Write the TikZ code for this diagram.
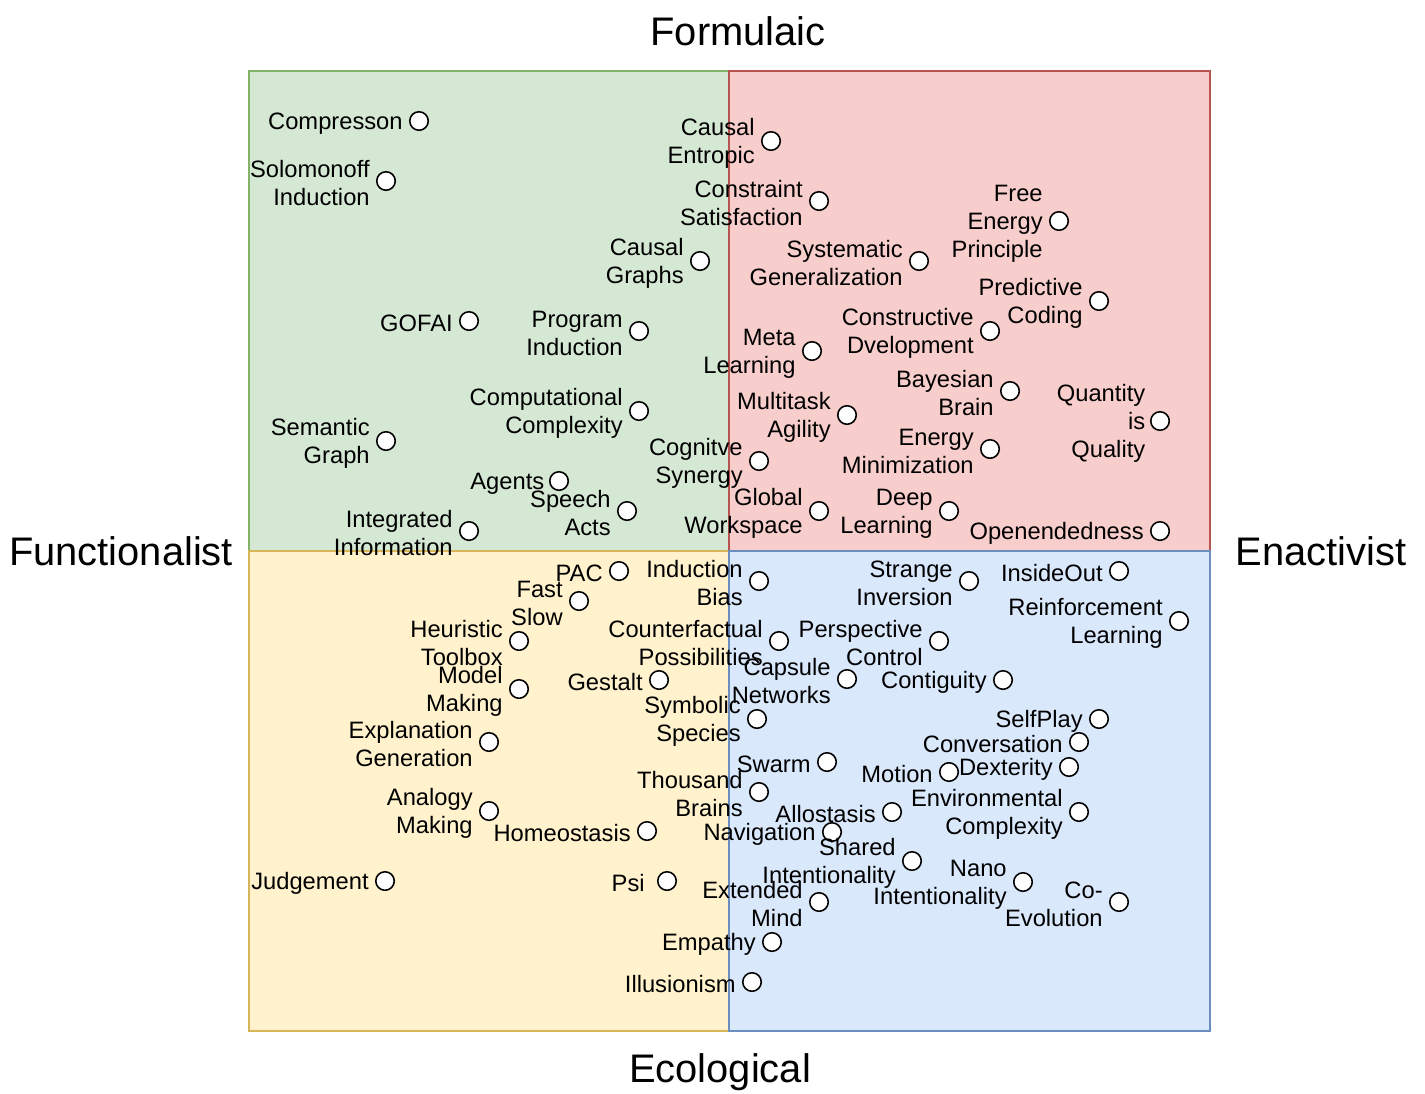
\documentclass[tikz,border=0pt]{standalone}
\usepackage{fontspec}
\setmainfont{Liberation Sans}
\usepackage{tikz}
\usetikzlibrary{positioning}
\definecolor{grfill}{HTML}{D5E8D4}
\definecolor{grline}{HTML}{82B366}
\definecolor{rdfill}{HTML}{F8CECC}
\definecolor{rdline}{HTML}{B85450}
\definecolor{ylfill}{HTML}{FFF2CC}
\definecolor{ylline}{HTML}{D6B656}
\definecolor{blfill}{HTML}{DAE8FC}
\definecolor{blline}{HTML}{6C8EBF}
\tikzstyle{pt}=[circle,draw,fill=white,inner sep=0pt,minimum size=0.37cm,line width=0.9pt]
\tikzstyle{lbl}=[align=right,inner sep=0pt,yshift=-1.4pt,font=\fontsize{13.5}{15.9}\selectfont]
\tikzstyle{axis}=[inner sep=0pt,font=\fontsize{22.7}{27}\selectfont]
\tikzstyle{quad}=[line width=0.85pt]
\begin{document}
\begin{tikzpicture}[x=0.02cm,y=-0.02cm]
            \useasboundingbox (0,0) rectangle (1425,1093);
            \fill[white] (0,0) rectangle (1425,1093);
            % quadrants
            \draw[quad,draw=grline,fill=grfill] (249,71) rectangle (729,551);
            \draw[quad,draw=ylline,fill=ylfill] (249,551) rectangle (729,1031);
            \draw[quad,draw=rdline,fill=rdfill] (729,71) rectangle (1210,551);
            \draw[quad,draw=blline,fill=blfill] (729,551) rectangle (1210,1031);
            % axes
            \node[axis] (formulaic) at (738,31) {Formulaic};
            \node[axis] (ecological) at (720,1072) {Ecological};
            \node[axis] (functionalist) at (121,551) {Functionalist};
            \node[axis] (enactivist) at (1321,551) {Enactivist};
            % formulaic / functionalist
            \node[pt] (comp) at (419,121) {}
            ;
            \node[lbl,left=3.4pt of comp] (compT) {Compresson}
            ;
            \node[pt] (solo) at (386,181) {}
            ;
            \node[lbl,left=3.4pt of solo] (soloT) {Solomonoff\\Induction}
            ;
            \node[pt] (cgraph) at (700,261) {}
            ;
            \node[lbl,left=3.4pt of cgraph] (cgraphT) {Causal\\Graphs}
            ;
            \node[pt] (gofai) at (469,321) {}
            ;
            \node[lbl,left=3.4pt of gofai] (gofaiT) {GOFAI}
            ;
            \node[pt] (prog) at (639,331) {}
            ;
            \node[lbl,left=3.4pt of prog] (progT) {Program\\Induction}
            ;
            \node[pt] (compx) at (639,411) {}
            ;
            \node[lbl,left=3.4pt of compx] (compxT) {Computational\\Complexity}
            ;
            \node[pt] (sem) at (386,441) {}
            ;
            \node[lbl,left=3.4pt of sem] (semT) {Semantic\\Graph}
            ;
            \node[pt] (agents) at (559,481) {}
            ;
            \node[lbl,left=2.5pt of agents] (agentsT) {Agents}
            ;
            \node[pt] (speech) at (627,511) {}
            ;
            \node[lbl,left=3.4pt of speech] (speechT) {Speech\\Acts}
            ;
            \node[pt] (integ) at (469,531) {}
            ;
            \node[lbl,left=3.4pt of integ] (integT) {Integrated\\Information}
            ;
            % formulaic / enactivist
            \node[pt] (centr) at (771,141) {}
            ;
            \node[lbl,left=3.4pt of centr] (centrT) {Causal\\Entropic}
            ;
            \node[pt] (cons) at (819,201) {}
            ;
            \node[lbl,left=3.4pt of cons] (consT) {Constraint\\Satisfaction}
            ;
            \node[pt] (fep) at (1059,221) {}
            ;
            \node[lbl,left=3.4pt of fep] (fepT) {Free\\Energy\\Principle}
            ;
            \node[pt] (sysg) at (919,261) {}
            ;
            \node[lbl,left=3.4pt of sysg] (sysgT) {Systematic\\Generalization}
            ;
            \node[pt] (pred) at (1099,301) {}
            ;
            \node[lbl,left=3.4pt of pred] (predT) {Predictive\\Coding}
            ;
            \node[pt] (cdev) at (990,331) {}
            ;
            \node[lbl,left=3.4pt of cdev] (cdevT) {Constructive\\Dvelopment}
            ;
            \node[pt] (meta) at (812,351) {}
            ;
            \node[lbl,left=3.4pt of meta] (metaT) {Meta\\Learning}
            ;
            \node[pt] (bayes) at (1010,391) {}
            ;
            \node[lbl,left=3.4pt of bayes] (bayesT) {Bayesian\\Brain}
            ;
            \node[pt] (multi) at (847,415) {}
            ;
            \node[lbl,left=3.4pt of multi] (multiT) {Multitask\\Agility}
            ;
            \node[pt] (qiq) at (1160,421) {}
            ;
            \node[lbl,left=2.5pt of qiq] (qiqT) {Quantity\\is\\Quality}
            ;
            \node[pt] (emin) at (990,449) {}
            ;
            \node[lbl,left=3.4pt of emin] (eminT) {Energy\\Minimization}
            ;
            \node[pt] (cogsyn) at (759,461) {}
            ;
            \node[lbl,left=3.4pt of cogsyn] (cogsynT) {Cognitve\\Synergy}
            ;
            \node[pt] (gws) at (819,511) {}
            ;
            \node[lbl,left=3.4pt of gws] (gwsT) {Global\\Workspace}
            ;
            \node[pt] (deep) at (949,511) {}
            ;
            \node[lbl,left=3.4pt of deep] (deepT) {Deep\\Learning}
            ;
            \node[pt] (open) at (1160,531) {}
            ;
            \node[lbl,left=3.4pt of open] (openT) {Openendedness}
            ;
            % ecological / functionalist
            \node[pt] (pac) at (619,571) {}
            ;
            \node[lbl,left=3.4pt of pac] (pacT) {PAC}
            ;
            \node[pt] (fast) at (579,601) {}
            ;
            \node[lbl,left=3.4pt of fast] (fastT) {Fast\\Slow}
            ;
            \node[pt] (heur) at (519,641) {}
            ;
            \node[lbl,left=3.4pt of heur] (heurT) {Heuristic\\Toolbox}
            ;
            \node[pt] (gest) at (659,680) {}
            ;
            \node[lbl,left=3.4pt of gest] (gestT) {Gestalt}
            ;
            \node[pt] (model) at (519,689) {}
            ;
            \node[lbl,left=3.4pt of model] (modelT) {Model\\Making}
            ;
            \node[pt] (expl) at (489,742) {}
            ;
            \node[lbl,left=3.4pt of expl] (explT) {Explanation\\Generation}
            ;
            \node[pt] (anal) at (489,811) {}
            ;
            \node[lbl,left=3.4pt of anal] (analT) {Analogy\\Making}
            ;
            \node[pt] (homeo) at (647,831) {}
            ;
            \node[lbl,left=3.4pt of homeo] (homeoT) {Homeostasis}
            ;
            \node[pt] (judge) at (385,881) {}
            ;
            \node[lbl,left=3.4pt of judge] (judgeT) {Judgement}
            ;
            \node[pt] (psi) at (667,881) {}
            ;
            \node[lbl,left=6.8pt of psi] (psiT) {Psi}
            ;
            % ecological / enactivist
            \node[pt] (ibias) at (759,581) {}
            ;
            \node[lbl,left=3.4pt of ibias] (ibiasT) {Induction\\Bias}
            ;
            \node[pt] (strange) at (969,581) {}
            ;
            \node[lbl,left=3.4pt of strange] (strangeT) {Strange\\Inversion}
            ;
            \node[pt] (inout) at (1119,571) {}
            ;
            \node[lbl,left=3.4pt of inout] (inoutT) {InsideOut}
            ;
            \node[pt] (rl) at (1179,621) {}
            ;
            \node[lbl,left=3.4pt of rl] (rlT) {Reinforcement\\Learning}
            ;
            \node[pt] (cfact) at (779,641) {}
            ;
            \node[lbl,left=3.4pt of cfact] (cfactT) {Counterfactual\\Possibilities}
            ;
            \node[pt] (persp) at (939,641) {}
            ;
            \node[lbl,left=3.4pt of persp] (perspT) {Perspective\\Control}
            ;
            \node[pt] (caps) at (847,679) {}
            ;
            \node[lbl,left=3.4pt of caps] (capsT) {Capsule\\Networks}
            ;
            \node[pt] (contig) at (1003,680) {}
            ;
            \node[lbl,left=3.4pt of contig] (contigT) {Contiguity}
            ;
            \node[pt] (symb) at (757,719) {}
            ;
            \node[lbl,left=3.4pt of symb] (symbT) {Symbolic\\Species}
            ;
            \node[pt] (self) at (1099,719) {}
            ;
            \node[lbl,left=3.4pt of self] (selfT) {SelfPlay}
            ;
            \node[pt] (conv) at (1079,742) {}
            ;
            \node[lbl,left=3.4pt of conv] (convT) {Conversation}
            ;
            \node[pt] (swarm) at (827,762) {}
            ;
            \node[lbl,left=3.4pt of swarm] (swarmT) {Swarm}
            ;
            \node[pt] (motion) at (949,772) {}
            ;
            \node[lbl,left=3.4pt of motion] (motionT) {Motion}
            ;
            \node[pt] (dext) at (1069,767) {}
            ;
            \node[lbl,left=3.4pt of dext] (dextT) {Dexterity}
            ;
            \node[pt] (thous) at (759,792) {}
            ;
            \node[lbl,left=3.4pt of thous] (thousT) {Thousand\\Brains}
            ;
            \node[pt] (allo) at (892,812) {}
            ;
            \node[lbl,left=3.4pt of allo] (alloT) {Allostasis}
            ;
            \node[pt] (env) at (1079,812) {}
            ;
            \node[lbl,left=3.4pt of env] (envT) {Environmental\\Complexity}
            ;
            \node[pt] (nav) at (832,832) {}
            ;
            \node[lbl,left=3.4pt of nav] (navT) {Navigation}
            ;
            \node[pt] (shared) at (912,861) {}
            ;
            \node[lbl,left=3.4pt of shared] (sharedT) {Shared\\Intentionality}
            ;
            \node[pt] (nano) at (1023,882) {}
            ;
            \node[lbl,left=3.4pt of nano] (nanoT) {Nano\\Intentionality}
            ;
            \node[pt] (coevo) at (1119,902) {}
            ;
            \node[lbl,left=3.4pt of coevo] (coevoT) {Co-\\Evolution}
            ;
            \node[pt] (ext) at (819,902) {}
            ;
            \node[lbl,left=3.4pt of ext] (extT) {Extended\\Mind}
            ;
            \node[pt] (emp) at (772,942) {}
            ;
            \node[lbl,left=3.4pt of emp] (empT) {Empathy}
            ;
            \node[pt] (illu) at (752,982) {}
            ;
            \node[lbl,left=3.4pt of illu] (illuT) {Illusionism}
            ;
        \end{tikzpicture}
\end{document}
